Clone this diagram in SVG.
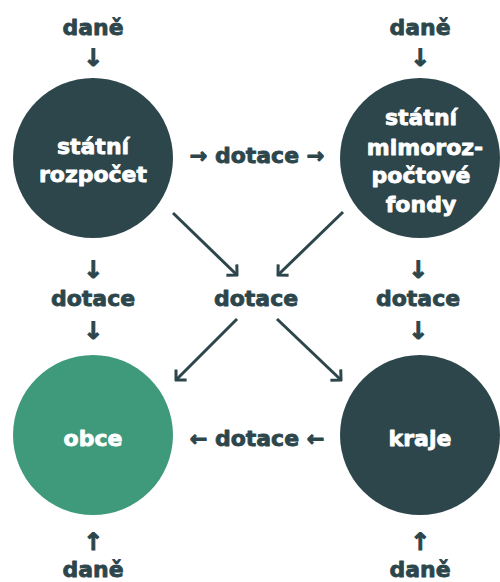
<svg xmlns="http://www.w3.org/2000/svg" width="500" height="582" viewBox="0 0 500 582">
<defs>
<style>
.t{font-family:"DejaVu Sans",sans-serif;font-weight:bold;font-size:22px;text-anchor:middle;fill:#2c464b;stroke:#2c464b;stroke-width:0.8px;stroke-linejoin:round}
.w{font-family:"DejaVu Sans",sans-serif;font-weight:bold;font-size:22px;text-anchor:middle;fill:#ffffff;stroke:#ffffff;stroke-width:0.8px;stroke-linejoin:round}
.a{font-family:"DejaVu Sans",sans-serif;font-weight:bold;font-size:24px;text-anchor:middle;fill:#2c464b;stroke:#2c464b;stroke-width:1px}
.h{font-size:21px;stroke-width:1px}
.dark{fill:#2c464b}
.green{fill:#3f9a7b}
.c{stroke:#2c464b;stroke-width:3;fill:none}
</style>
<marker id="ah" viewBox="-12 -12 14 24" markerWidth="14" markerHeight="24" refX="0" refY="0" orient="auto" markerUnits="userSpaceOnUse">
<path d="M-7.5,-7.5 L0,0 L-7.5,7.5" fill="none" stroke="#2c464b" stroke-width="3"/>
</marker>
</defs>
<rect width="500" height="582" fill="#ffffff"/>
<g id="connectors">
<path class="c" d="M173,213 L237,275" marker-end="url(#ah)"/>
<path class="c" d="M343,212 L278,275" marker-end="url(#ah)"/>
<path class="c" d="M237,319 L176,380" marker-end="url(#ah)"/>
<path class="c" d="M277,319 L341,380" marker-end="url(#ah)"/>
<text class="t" x="93" y="35">daně</text>
<text class="a" x="93" y="66">↓</text>
<text class="t" x="420" y="35">daně</text>
<text class="a" x="420" y="66">↓</text>
<text class="t" x="257" y="163"><tspan class="h">→</tspan> dotace <tspan class="h">→</tspan></text>
<text class="a" x="93" y="278">↓</text>
<text class="t" x="93" y="306">dotace</text>
<text class="a" x="93" y="339">↓</text>
<text class="t" x="256" y="306">dotace</text>
<text class="a" x="418" y="278">↓</text>
<text class="t" x="418" y="306">dotace</text>
<text class="a" x="418" y="339">↓</text>
<text class="t" x="257" y="446"><tspan class="h">←</tspan> dotace <tspan class="h">←</tspan></text>
<text class="a" x="93" y="550">↑</text>
<text class="t" x="93" y="577">daně</text>
<text class="a" x="420" y="550">↑</text>
<text class="t" x="420" y="577">daně</text>
</g>
<g id="statni-rozpocet">
<circle class="dark" cx="93" cy="158" r="80"/>
<text class="w" x="93" y="154">státní</text>
<text class="w" x="93" y="182">rozpočet</text>
</g>
<g id="statni-fondy">
<circle class="dark" cx="420" cy="158" r="80"/>
<text class="w" x="421" y="125">státní</text>
<text class="w" x="425" y="155">mimoroz-</text>
<text class="w" x="421" y="183">počtové</text>
<text class="w" x="421" y="212">fondy</text>
</g>
<g id="obce">
<circle class="green" cx="93" cy="435" r="80"/>
<text class="w" x="93" y="446">obce</text>
</g>
<g id="kraje">
<circle class="dark" cx="420" cy="435" r="80"/>
<text class="w" x="420" y="446">kraje</text>
</g>
</svg>
